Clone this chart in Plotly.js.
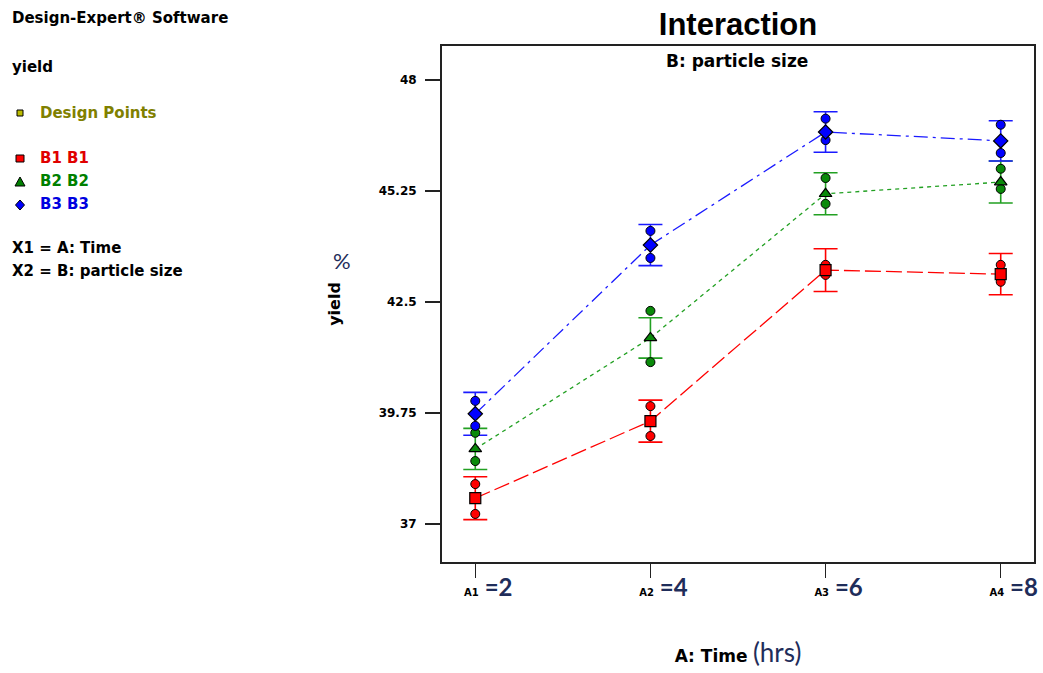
<!DOCTYPE html>
<html>
<head>
<meta charset="utf-8">
<script src="https://cdn.plot.ly/plotly-3.0.1.min.js"></script>
<style>html,body{margin:0;padding:0;background:#fff;}#chart{width:1043px;height:673px;}</style>
</head>
<body>
<div id="chart"></div>
<script>
// ---------- data ----------
const timeLevels = ['A1', 'A2', 'A3', 'A4'];
const timeHours = ['2', '4', '6', '8'];
const yTicks = [37, 39.75, 42.5, 45.25, 48];
const yTickText = ['37', '39.75', '42.5', '45.25', '48'];

const seriesNames = ['B1 B1', 'B2 B2', 'B3 B3'];

// predicted means per time level
const b1Mean = [37.64, 39.55, 43.29, 43.19];
const b2Mean = [38.86, 41.61, 45.18, 45.47];
const b3Mean = [39.73, 43.91, 46.71, 46.49];

// LSD half-widths
const b1Lsd = [0.53, 0.52, 0.53, 0.51];
const b2Lsd = [0.51, 0.50, 0.52, 0.52];
const b3Lsd = [0.53, 0.51, 0.50, 0.50];

// design points
const b1PtsX = ['A1', 'A1', 'A2', 'A2', 'A3', 'A3', 'A4', 'A4'];
const b1PtsY = [37.99, 37.25, 39.92, 39.18, 43.42, 43.17, 43.42, 43.00];
const b2PtsX = ['A1', 'A1', 'A2', 'A2', 'A3', 'A3', 'A4', 'A4'];
const b2PtsY = [39.26, 38.56, 42.28, 41.01, 45.57, 44.93, 45.80, 45.30];
const b3PtsX = ['A1', 'A1', 'A2', 'A2', 'A3', 'A3', 'A4', 'A4'];
const b3PtsY = [40.05, 39.43, 44.26, 43.59, 47.04, 46.51, 46.89, 46.19];

// ---------- styling ----------
const L = 442, R = 1034, T = 46, B = 562;
const px = x => (x - L) / (R - L);
const py = y => (B - y) / (B - T);
const FB = 'DejaVu Sans, Liberation Sans, Arial, sans-serif';

const lineCol = ['#ff0000', '#22a022', '#1a1aff'];
const fillCol = ['#ff0000', '#0a8a0a', '#0000ff'];
const meanSym = ['square', 'triangle-up', 'diamond'];
const dashes = ['16px,5px', '4px,4px', '14px,5px,3px,5px'];

const means = [b1Mean, b2Mean, b3Mean];
const lsds = [b1Lsd, b2Lsd, b3Lsd];
const ptsX = [b1PtsX, b2PtsX, b3PtsX];
const ptsY = [b1PtsY, b2PtsY, b3PtsY];

const traces = [];
for (let s = 0; s < 3; s++) {
  traces.push({
    type: 'scatter', mode: 'lines', name: seriesNames[s],
    x: timeLevels, y: means[s],
    line: {color: lineCol[s], width: 1.3, dash: dashes[s]},
    error_y: {type: 'data', array: lsds[s], visible: true, color: lineCol[s], thickness: 1.6, width: 12},
    hoverinfo: 'skip', showlegend: false
  });
}
for (let s = 0; s < 3; s++) {
  traces.push({
    type: 'scatter', mode: 'markers', name: seriesNames[s] + ' points',
    x: ptsX[s], y: ptsY[s],
    marker: {symbol: 'circle', size: 9, color: fillCol[s], line: {color: '#000', width: 1}},
    showlegend: false
  });
}
for (let s = 0; s < 3; s++) {
  traces.push({
    type: 'scatter', mode: 'markers', name: seriesNames[s] + ' mean',
    x: timeLevels, y: means[s],
    marker: {symbol: meanSym[s], size: 11, color: fillCol[s], line: {color: '#000', width: 1.2}},
    showlegend: false
  });
}

const tickText = timeLevels.map((a, i) =>
  '<span style="font-size:10px;font-weight:bold">' + a + '</span>' +
  '<span style="font-size:24px;font-family:Lato, sans-serif;color:#1f2d5a"> =' + timeHours[i] + '</span>');

const ann = (x, y, text, opts) => Object.assign({
  xref: 'paper', yref: 'paper', x: px(x), y: py(y), text: text,
  showarrow: false, xanchor: 'left', yanchor: 'middle',
  font: {family: FB, size: 15, color: '#000', weight: 'bold'}
}, opts || {});

const annotations = [
  ann(10, 18, 'Design-Expert® Software'),
  ann(10, 67, 'yield'),
  ann(38, 113, 'Design Points', {font: {family: FB, size: 15, color: '#808000', weight: 'bold'}}),
  ann(38, 158, seriesNames[0], {font: {family: FB, size: 15, color: '#e00000', weight: 'bold'}}),
  ann(38, 181, seriesNames[1], {font: {family: FB, size: 15, color: '#008000', weight: 'bold'}}),
  ann(38, 204, seriesNames[2], {font: {family: FB, size: 15, color: '#0000e0', weight: 'bold'}}),
  ann(10, 248, 'X1 = A: Time'),
  ann(10, 271, 'X2 = B: particle size'),
  ann(737, 61, 'B: particle size', {xanchor: 'center', font: {family: FB, size: 17, color: '#000', weight: 'bold'}}),
  ann(342, 260, '%', {xanchor: 'center', font: {family: 'Lato, sans-serif', size: 22, color: '#1f2d5a'}})
];

const shapes = [
  {type: 'rect', xref: 'paper', yref: 'paper', x0: px(17), x1: px(23), y0: py(116), y1: py(110), line: {color: '#000', width: 1}, fillcolor: '#bbbb00'},
  {type: 'rect', xref: 'paper', yref: 'paper', x0: px(16), x1: px(24), y0: py(162), y1: py(155), line: {color: '#000', width: 1}, fillcolor: '#ff0000'},
  {type: 'path', xref: 'paper', yref: 'paper',
    path: 'M' + px(15) + ',' + py(186) + ' L' + px(25) + ',' + py(186) + ' L' + px(20) + ',' + py(177) + ' Z', line: {color: '#000', width: 1}, fillcolor: '#008000'},
  {type: 'path', xref: 'paper', yref: 'paper',
    path: 'M' + px(20) + ',' + py(200) + ' L' + px(24.5) + ',' + py(205) + ' L' + px(20) + ',' + py(210) + ' L' + px(15.5) + ',' + py(205) + ' Z', line: {color: '#000', width: 1}, fillcolor: '#0000ff'}
];

const layout = {
  width: 1043, height: 673,
  paper_bgcolor: '#fff', plot_bgcolor: '#fff',
  margin: {l: L, r: 1043 - R, t: T, b: 673 - B, pad: 0},
  showlegend: false,
  font: {family: FB, color: '#000'},
  title: {text: 'Interaction', x: 0.5, xref: 'paper', xanchor: 'center', y: 1 - 24 / 673, yref: 'container', yanchor: 'middle',
    font: {family: 'Liberation Sans, Arial, sans-serif', size: 31, color: '#000', weight: 'bold'}},
  xaxis: {
    type: 'category', range: [-0.19, 3.19],
    tickvals: timeLevels, ticktext: tickText,
    ticks: 'outside', ticklen: 14, tickwidth: 1.5, tickcolor: '#222',
    ticklabelshift: 13, ticklabelstandoff: 6,
    tickfont: {family: FB, size: 10, color: '#000', weight: 'bold'},
    showline: true, linecolor: '#222', linewidth: 2, mirror: true,
    showgrid: false, zeroline: false,
    title: {text: '<b>A: Time</b> <span style="font-family:Lato, sans-serif;font-size:26px;color:#1f2d5a">(hrs)</span>',
      standoff: 50, font: {family: FB, size: 17, color: '#000'}}
  },
  yaxis: {
    range: [36.06, 48.84],
    tickvals: yTicks, ticktext: yTickText,
    ticks: 'outside', ticklen: 15, tickwidth: 1.5, tickcolor: '#222',
    ticklabelstandoff: 6,
    tickfont: {family: FB, size: 12, color: '#000', weight: 'bold'},
    showline: true, linecolor: '#222', linewidth: 2, mirror: true,
    showgrid: false, zeroline: false,
    title: {text: 'yield', standoff: 34, font: {family: FB, size: 16, color: '#000', weight: 'bold'}}
  },
  annotations: annotations,
  shapes: shapes
};

Plotly.newPlot('chart', traces, layout, {displayModeBar: false, staticPlot: true});
</script>
</body>
</html>
